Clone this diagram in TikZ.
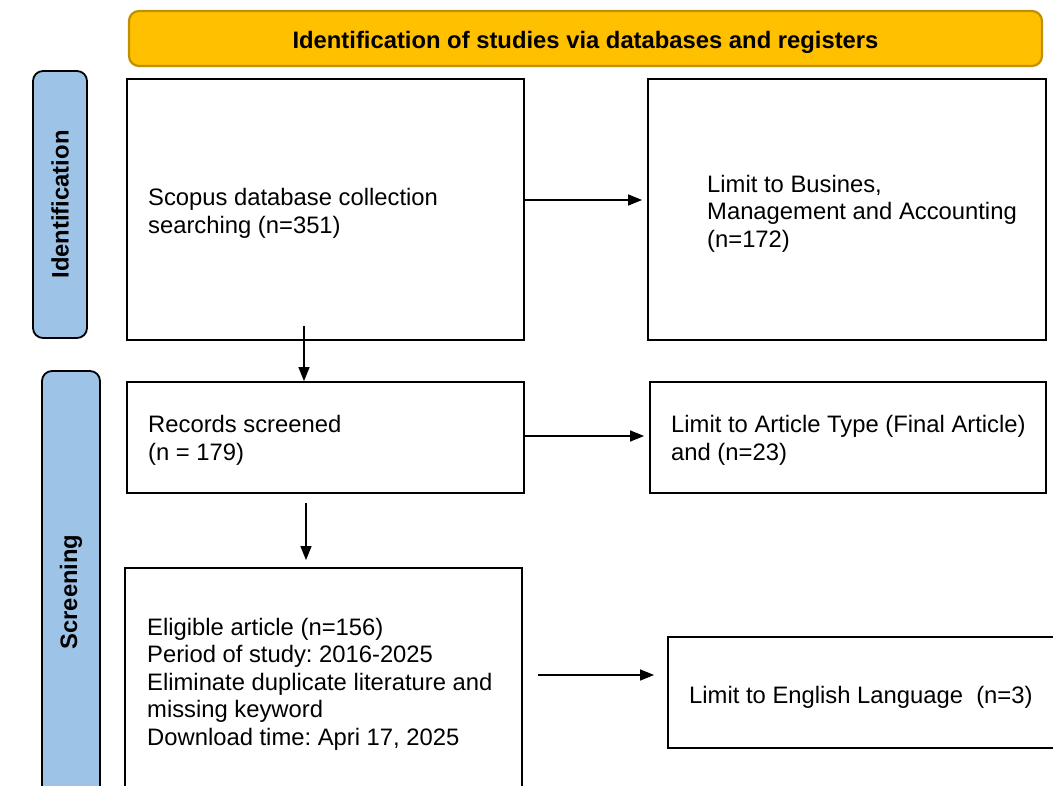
\documentclass[tikz,border=0pt]{standalone}
\usepackage{fontspec}
\setmainfont{Liberation Sans}
\usetikzlibrary{arrows.meta}

\definecolor{bannergold}{HTML}{FFC000}
\definecolor{bannerline}{HTML}{BF9000}
\definecolor{stageblue}{HTML}{9DC3E6}

\newcommand{\flowsize}{\fontsize{23.8}{27.5}\selectfont}
\frenchspacing
\hyphenpenalty=10000

\tikzset{
  box/.style={draw, line width=1.8pt, inner sep=0pt},
  boxtext/.style={align=left, anchor=west, inner sep=0pt},
  stage/.style={draw, line width=1.8pt, rounded corners=10pt, fill=stageblue, font=\flowsize\bfseries, rotate=90},
  arrow/.style={-{Triangle[length=14pt, width=11pt]}, line width=1.3pt},
}

\begin{document}
\begin{tikzpicture}[x=1pt, y=-1pt, font=\flowsize]
	\useasboundingbox (0, 0) rectangle (1053, 786);
	\clip (0, 0) rectangle (1053, 786);

	% header and stages
	\node[draw=bannerline, line width=2.2pt, fill=bannergold, rounded corners=10pt, minimum width=913pt, minimum height=55pt, text height=19.4pt, text depth=0pt, font=\flowsize\bfseries] (banner) at (585.5, 38.5) {Identification of studies via databases and registers};
	\node[stage, minimum width=267pt, minimum height=54pt] (ident) at (60, 204.5) {Identification};
	\node[stage, minimum width=442pt, minimum height=58pt] (screen) at (71, 592) {Screening};

	% boxes
	\node[box, minimum width=397pt, minimum height=261pt] (search) at (325.5, 209.5) {};
	\node[box, minimum width=398pt, minimum height=261pt] (subject) at (847, 209.5) {};
	\node[box, minimum width=397pt, minimum height=111pt] (screened) at (325.5, 437.5) {};
	\node[box, minimum width=396pt, minimum height=111pt] (doctype) at (848, 437.5) {};
	\node[box, minimum width=397pt, minimum height=228pt] (eligible) at (323.5, 682) {};
	\node[box, minimum width=404pt, minimum height=111pt] (language) at (870, 692.5) {};

	% texts
	\node[boxtext] (searchtext) at (148, 213.5) {Scopus database collection\\searching (n=351)};
	\node[boxtext] (subjecttext) at (707, 213.5) {Limit to Busines,\\Management and Accounting\\(n=172)};
	\node[boxtext] (screenedtext) at (148, 440.5) {Records screened\\(n = 179)};
	\node[boxtext] (doctypetext) at (671, 440.5) {Limit to Article Type (Final Article)\\and (n=23)};
	\node[boxtext] (eligibletext) at (147, 684) {Eligible article (n=156)\\Period of study: 2016-2025\\Eliminate duplicate literature and\\missing keyword\\Download time: Apri 17, 2025};
	\node[boxtext] (languagetext) at (689, 697.5) {Limit to English Language~~(n=3)};

	% arrows
	\draw[arrow, shorten >=5pt] ([yshift=9.5pt]search.east) -- ([yshift=9.5pt]subject.west);
	\draw[arrow, shorten >=5pt] ([yshift=1.5pt]screened.east) -- ([yshift=1.5pt]doctype.west);
	\draw[arrow, shorten <=15pt, shorten >=13pt] ([yshift=7pt]eligible.east) -- ([yshift=17.5pt]language.west);
	\coordinate (down1) at (304, 326);
	\coordinate (down2) at (306, 503);
	\draw[arrow] (down1) -- (down1 |- screened.north);
	\draw[arrow, shorten >=7pt] (down2) -- (down2 |- eligible.north);
\end{tikzpicture}
\end{document}
